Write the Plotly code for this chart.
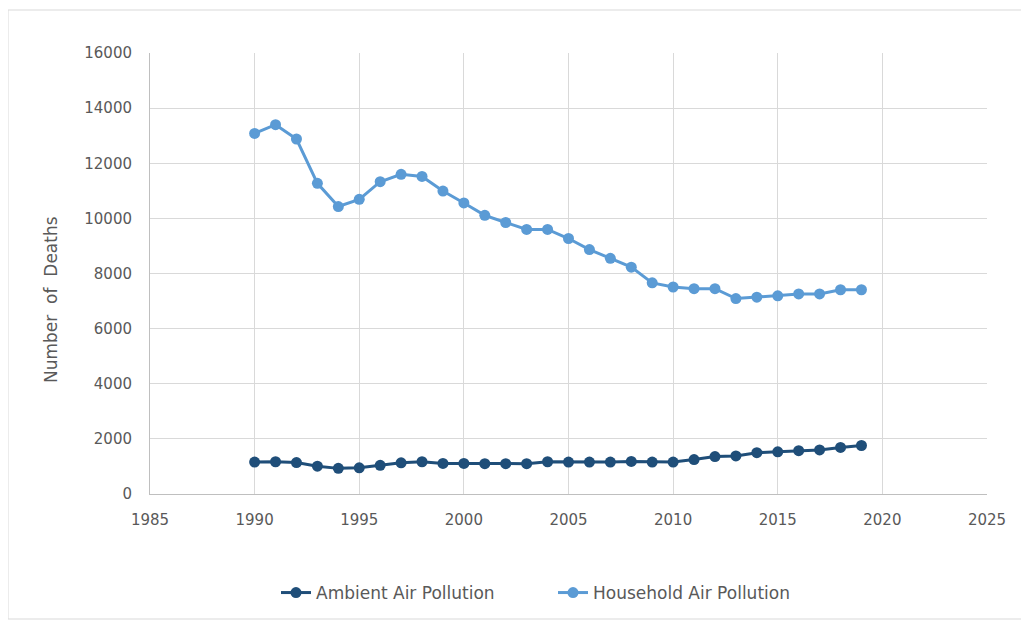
import plotly.graph_objects as go

years = list(range(1990, 2020))
ambient = [1160, 1170, 1140, 1010, 930, 950, 1040, 1130, 1170, 1110,
           1110, 1100, 1100, 1100, 1170, 1160, 1160, 1160, 1180, 1160,
           1160, 1250, 1360, 1380, 1500, 1530, 1570, 1600, 1690, 1760]
household = [13080, 13400, 12880, 11270, 10430, 10690, 11330, 11600, 11520, 10990,
             10560, 10110, 9850, 9600, 9600, 9270, 8870, 8550, 8230, 7660,
             7510, 7450, 7450, 7090, 7140, 7190, 7260, 7260, 7410, 7410]

fig = go.Figure()
fig.add_trace(go.Scatter(x=years, y=ambient, mode="lines+markers", name="Ambient Air Pollution",
                         line=dict(color="#1F4E79", width=3),
                         marker=dict(color="#1F4E79", size=11), legend="legend"))
fig.add_trace(go.Scatter(x=years, y=household, mode="lines+markers", name="Household Air Pollution",
                         line=dict(color="#5B9BD5", width=3),
                         marker=dict(color="#5B9BD5", size=11), legend="legend2"))

font_color = "#595959"
FONT = "DejaVu Sans, Open Sans, sans-serif"
# page body offsets by 8px; plot area target: x 150..987, y 53..494
PW, PH = 837, 441
fig.update_layout(
    width=1029, height=620,
    margin=dict(l=142, r=50, t=45, b=134),
    paper_bgcolor="white", plot_bgcolor="white",
    font=dict(family=FONT, size=15, color=font_color),
    showlegend=True,
    legend=dict(x=(276 - 150) / PW, y=(494 - 593) / PH, xanchor="left", yanchor="middle",
                font=dict(family=FONT, size=17, color=font_color), bgcolor="rgba(0,0,0,0)"),
    legend2=dict(x=(553 - 150) / PW, y=(494 - 593) / PH, xanchor="left", yanchor="middle",
                 font=dict(family=FONT, size=17, color=font_color), bgcolor="rgba(0,0,0,0)"),
    xaxis=dict(range=[1985, 2025], tick0=1985, dtick=5, showgrid=True, gridcolor="#D9D9D9",
               gridwidth=1, showline=True, linecolor="#BFBFBF", linewidth=1,
               zeroline=False, ticks="", tickformat="d", ticklabelstandoff=12,
               tickfont=dict(family=FONT, size=15, color=font_color)),
    yaxis=dict(range=[0, 16000], dtick=2000, showgrid=True, gridcolor="#D9D9D9",
               gridwidth=1, showline=True, linecolor="#BFBFBF", linewidth=1,
               zeroline=False, ticks="", tickformat="d", ticklabelstandoff=14,
               tickfont=dict(family=FONT, size=15, color=font_color)),
)

# y-axis title (placed like the reference, slightly below plot centre)
fig.add_annotation(text="Number\u00a0 of\u00a0 Deaths", textangle=-90, showarrow=False,
                   xref="paper", yref="paper", x=(51 - 150) / PW, y=(494 - 300) / PH,
                   xanchor="center", yanchor="middle",
                   font=dict(family=FONT, size=17, color=font_color))

# outer chart border
fig.add_shape(type="rect", xref="paper", yref="paper",
              x0=(8 - 150) / PW, x1=(1022 - 150) / PW,
              y0=(494 - 619) / PH, y1=(494 - 10) / PH,
              line=dict(color="#D9D9D9", width=1), fillcolor="rgba(0,0,0,0)", layer="below")

fig.write_html("out.html")
